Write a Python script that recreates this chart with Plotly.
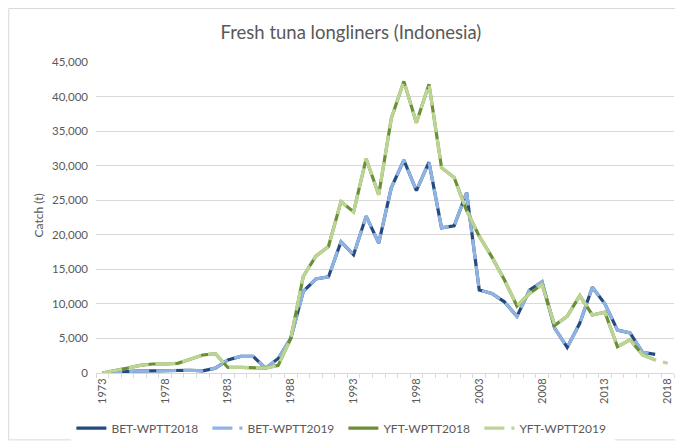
import plotly.graph_objects as go

# catch (t) by year
years = list(range(1973, 2019))

bet_2018 = [0, 100, 300, 300, 300, 350, 400, 400, 300, 700,
            1900, 2400, 2400, 700, 2100, 5000, 11800, 13600, 13900, 19000,
            17100, 22700, 18800, 26800, 30800, 26400, 30500, 21000, 21300, 26100,
            12000, 11500, 10300, 8200, 12000, 13200, 6500, 3700, 7200, 12400,
            10000, 6200, 5800, 3000, 2700]
bet_2019 = [0, 100, 300, 300, 300, 350, 400, 400, 300, 700,
            1900, 2400, 2400, 700, 2100, 5000, 11800, 13600, 13900, 19000,
            17100, 22700, 18800, 26800, 30800, 26400, 30500, 21000, 21300, 26100,
            12000, 11500, 10300, 8200, 12000, 13200, 6500, 3700, 7200, 12400,
            10000, 6200, 5800, 3000, 2700]
yft_2018 = [0, 300, 700, 1100, 1300, 1300, 1400, 2000, 2600, 2800,
            800, 800, 800, 700, 1100, 5000, 14000, 16900, 18300, 24800,
            23300, 31000, 25800, 36800, 42200, 36200, 41800, 29700, 28300, 23500,
            19800, 16800, 13500, 9700, 11500, 12800, 6900, 8200, 11200, 8400,
            8800, 3800, 4800, 2600, 1900]
yft_2019 = [0, 300, 700, 1100, 1300, 1300, 1400, 2000, 2600, 2800,
            800, 800, 800, 700, 1100, 5000, 14000, 16900, 18300, 24800,
            23300, 31000, 25800, 36800, 42200, 36200, 41800, 29700, 28300, 23500,
            19800, 16800, 13500, 9700, 11500, 12800, 6900, 8200, 11200, 8400,
            8800, 3800, 4800, 2600, 1900, 1400]

label_years = [1973, 1978, 1983, 1988, 1993, 1998, 2003, 2008, 2013, 2018]

GREY = "#595959"
GRID = "#d9d9d9"
FONT = "Lato, Noto Sans, sans-serif"

series = [
    ("BET-WPTT2018", bet_2018, "#254a7e", "solid"),
    ("BET-WPTT2019", bet_2019, "#8fb4e3", "20px,7px"),
    ("YFT-WPTT2018", yft_2018, "#6b8f35", "solid"),
    ("YFT-WPTT2019", yft_2019, "#bcd494", "20px,7px"),
]

fig = go.Figure()
for name, vals, color, dash in series:
    fig.add_trace(go.Scatter(
        x=years[:len(vals)], y=vals, mode="lines", name=name,
        line=dict(color=color, width=3.2, dash=dash),
    ))

# page body adds an 8px margin, so the figure is 8px smaller each way
fig.update_layout(
    width=675, height=436,
    margin=dict(l=88, r=9, t=54, b=71, autoexpand=False),
    plot_bgcolor="white", paper_bgcolor="white",
    font=dict(family=FONT, color=GREY, size=11),
    title=dict(text="Fresh tuna longliners (Indonesia)", x=0.508, xanchor="center",
               y=0.943, yanchor="middle", font=dict(size=18.5, color=GREY)),
    showlegend=True,
    legend=dict(orientation="h", x=0.428, xanchor="center", y=-0.177, yanchor="middle",
                font=dict(size=12, color=GREY), entrywidth=91, traceorder="normal"),
    xaxis=dict(
        range=[1972.5, 2018.5], tickvals=label_years, ticktext=[str(y) for y in label_years],
        tickangle=-90, ticks="", showgrid=False, zeroline=False, automargin=False,
        showline=True, linecolor=GRID, linewidth=1,
        minor=dict(ticks="outside", tick0=1972.5, dtick=1, ticklen=4, tickcolor=GRID, showgrid=False),
        tickfont=dict(size=11, color=GREY),
    ),
    yaxis=dict(
        range=[0, 45000], dtick=5000, tickformat=",", showgrid=True, gridcolor=GRID,
        gridwidth=1, zeroline=False, showline=False, ticks="", automargin=False,
        tickfont=dict(size=11.5, color=GREY), ticklabelstandoff=7,
    ),
    annotations=[dict(text="Catch (t)", xref="paper", yref="paper", x=-0.116, y=0.508,
                      textangle=-90, showarrow=False, font=dict(size=12, color=GREY))],
    shapes=[dict(type="rect", xref="paper", yref="paper", x0=-0.151, x1=1.0138,
                 y0=-0.215, y1=1.172, line=dict(color=GRID, width=1), layer="below")],
)

fig.write_html("out.html")
